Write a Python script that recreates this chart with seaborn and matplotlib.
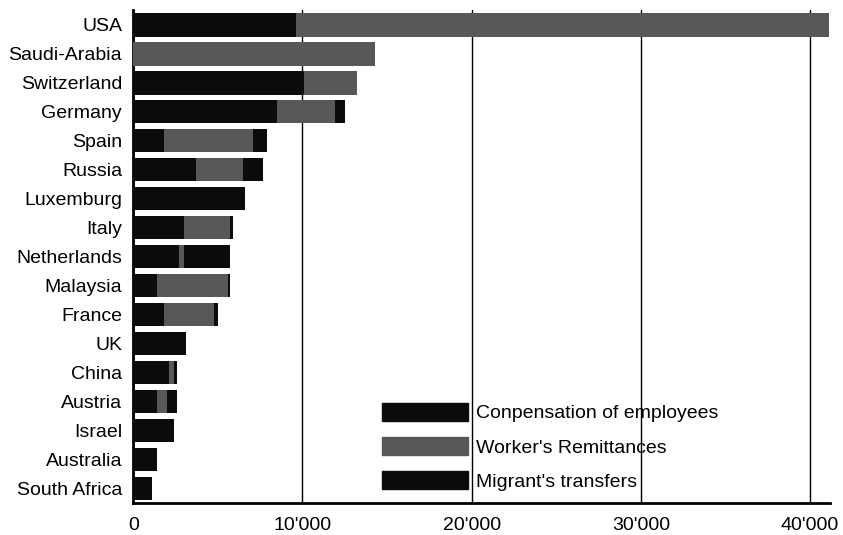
import matplotlib
matplotlib.use("Agg")
import matplotlib.pyplot as plt
import matplotlib.patches as mpatches
import matplotlib.ticker as mticker
import numpy as np
import seaborn as sns

# ── Data ─────────────────────────────────────────────────────────
countries = ["USA", "Saudi-Arabia", "Switzerland", "Germany", "Spain", "Russia",
             "Luxemburg", "Italy", "Netherlands", "Malaysia", "France", "UK",
             "China", "Austria", "Israel", "Australia", "South Africa"]
compensation = [9600, 0, 10100, 8500, 1800, 3700, 6600, 3000, 2700, 1400,
                1800, 3100, 2100, 1400, 2400, 1400, 1100]
remittances = [31500, 14300, 3100, 3400, 5300, 2800, 0, 2700, 300, 4200,
               3000, 0, 300, 600, 0, 0, 0]
migrant = [0, 0, 0, 600, 800, 1200, 0, 200, 2700, 100,
           200, 0, 200, 600, 0, 0, 0]
labels = ["Conpensation of employees", "Worker's Remittances", "Migrant's transfers"]
colors = ["#0b0b0b", "#585858", "#0b0b0b"]

# cumulative ends of the stacked segments
c1 = np.array(compensation)
c2 = c1 + np.array(remittances)
c3 = c2 + np.array(migrant)

# ── Plot ─────────────────────────────────────────────────────────
sns.set_style("white")
plt.rcParams["font.family"] = ["Liberation Sans", "DejaVu Sans"]

fig = plt.figure(figsize=(8.43, 5.35), dpi=100)
ax = fig.add_axes([0.158, 0.06, 0.827, 0.921])

for vals, col in [(c3, colors[2]), (c2, colors[1]), (c1, colors[0])]:
    sns.barplot(x=vals, y=countries, orient="h", color=col, width=0.82,
                saturation=1, linewidth=0, ax=ax, zorder=3)

ax.set_xlim(0, 41200)
ax.set_xticks([0, 10000, 20000, 30000, 40000])
ax.xaxis.set_major_formatter(mticker.FuncFormatter(
    lambda v, p: "0" if v == 0 else f"{int(v):,}".replace(",", "'")))
ax.grid(axis="x", color="black", linewidth=1.0, zorder=1)
ax.grid(axis="y", visible=False)
ax.set_axisbelow(True)
ax.set_xlabel("")
ax.set_ylabel("")
ax.tick_params(axis="x", length=0, pad=10, labelsize=14, labelcolor="black")
ax.tick_params(axis="y", length=0, pad=8, labelsize=14, labelcolor="black")

for s in ["top", "right"]:
    ax.spines[s].set_visible(False)
for s in ["left", "bottom"]:
    ax.spines[s].set_color("black")
    ax.spines[s].set_linewidth(2)

handles = [mpatches.Patch(facecolor=c, edgecolor=c) for c in colors]
leg = ax.legend(handles, labels, loc="lower left", bbox_to_anchor=(0.332, -0.011),
                frameon=False, fontsize=14, handlelength=4.4, handleheight=1.08,
                labelspacing=0.74, handletextpad=0.45)
for t in leg.get_texts():
    t.set_color("black")

plt.savefig("out.png", dpi=100)
